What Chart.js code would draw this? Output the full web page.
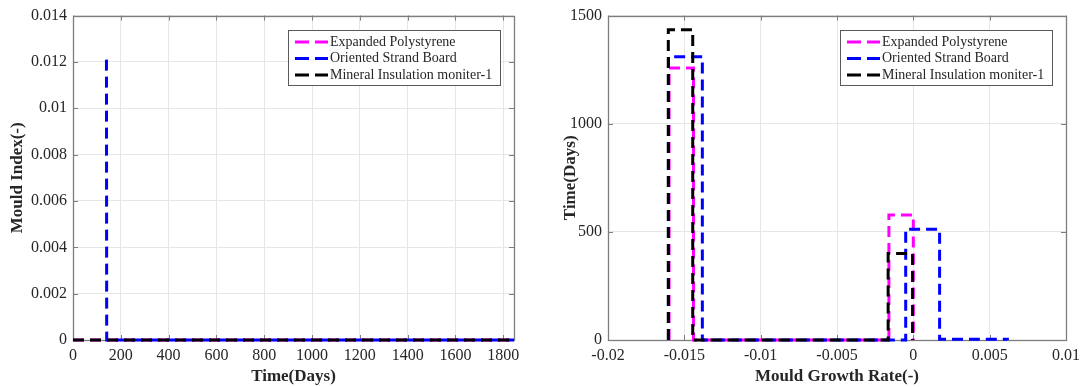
<!DOCTYPE html>
<html>
<head>
<meta charset="utf-8">
<script src="https://cdn.jsdelivr.net/npm/chart.js@4"></script>
<style>
body { margin: 0; background: #fff; width: 1088px; height: 387px; overflow: hidden; }
.pane { position: absolute; top: 0; height: 387px; }
</style>
</head>
<body>
<div class="pane" style="left:0;width:540px"><canvas id="leftChart" width="540" height="387"></canvas></div>
<div class="pane" style="left:540px;width:548px"><canvas id="rightChart" width="548" height="387"></canvas></div>
<script>
let seriesNames = ['Expanded Polystyrene', 'Oriented Strand Board', 'Mineral Insulation moniter-1']
let seriesColors = ['#ff00ff', '#0000ff', '#000000']

// left: mould index over time
let epsTime = [0, 1845]
let epsIndex = [0, 0]
let osbTime = [140, 141, 1845]
let osbIndex = [0.0121, 0, 0]
let minTime = [0, 1845]
let minIndex = [0, 0]
let leftXTicks = [0, 200, 400, 600, 800, 1000, 1200, 1400, 1600, 1800]
let leftYTicks = [0, 0.002, 0.004, 0.006, 0.008, 0.01, 0.012, 0.014]

// right: days per mould growth rate bin (stairs)
let epsEdges = [-0.0160, -0.0144, -0.0128, -0.0112, -0.0096, -0.0080, -0.0064, -0.0048, -0.0032, -0.0016, 0.0000]
let epsDays = [1258, 0, 0, 0, 0, 0, 0, 0, 0, 578]
let osbEdges = [-0.01604, -0.01382, -0.01160, -0.00938, -0.00716, -0.00494, -0.00272, -0.00050, 0.00172, 0.00394, 0.00616]
let osbDays = [1310, 0, 0, 0, 0, 0, 0, 512, 3, 4]
let minEdges = [-0.01605, -0.01445, -0.01285, -0.01125, -0.00965, -0.00805, -0.00645, -0.00485, -0.00325, -0.00165, -0.00005]
let minDays = [1435, 0, 0, 0, 0, 0, 0, 0, 0, 400]
let rightXTicks = [-0.02, -0.015, -0.01, -0.005, 0, 0.005, 0.01]
let rightYTicks = [0, 500, 1000, 1500]

let serif = '"Liberation Serif", "Times New Roman", serif'
let textColor = '#262626'

function pairs(xs, ys) {
    return xs.map((x, i) => ({x: x, y: ys[i]}))
}

function stairs(edges, counts) {
    let pts = [{x: edges[0], y: 0}]
    counts.forEach((c, i) => pts.push({x: edges[i], y: c}))
    pts.push({x: edges[edges.length - 1], y: 0})
    return pts
}

function makeDataset(i, data, stepped) {
    return {
        label: seriesNames[i],
        data: data,
        borderColor: seriesColors[i],
        backgroundColor: seriesColors[i],
        borderWidth: 3,
        borderDash: [11, 6],
        pointRadius: 0,
        fill: false,
        tension: 0,
        stepped: stepped,
        clip: false,
        order: 2 - i
    }
}

// box, inner ticks on all four sides
let frame = {
    id: 'frame',
    beforeDatasetsDraw(chart) {
        let {ctx, chartArea: a, scales: {x, y}} = chart
        ctx.save()
        ctx.strokeStyle = '#7d7d7d'
        ctx.lineWidth = 1
        ctx.beginPath()
        x.ticks.forEach(t => {
            let p = Math.round(x.getPixelForValue(t.value)) + 0.5
            ctx.moveTo(p, a.bottom); ctx.lineTo(p, a.bottom - 5)
            ctx.moveTo(p, a.top); ctx.lineTo(p, a.top + 5)
        })
        y.ticks.forEach(t => {
            let p = Math.round(y.getPixelForValue(t.value)) + 0.5
            ctx.moveTo(a.left, p); ctx.lineTo(a.left + 5, p)
            ctx.moveTo(a.right, p); ctx.lineTo(a.right - 5, p)
        })
        ctx.stroke()
        ctx.lineWidth = 1.3
        ctx.strokeRect(Math.round(a.left) + 0.5, Math.round(a.top) + 0.5, Math.round(a.width), Math.round(a.height))
        ctx.restore()
    }
}

// matlab style legend box in the top right corner
let boxLegend = {
    id: 'boxLegend',
    afterDraw(chart) {
        let {ctx, chartArea: a} = chart
        let w = 212, h = 55
        let left = Math.round(a.right - 14 - w), top = Math.round(a.top + 14)
        ctx.save()
        ctx.fillStyle = '#fff'
        ctx.fillRect(left, top, w, h)
        ctx.strokeStyle = '#5a5a5a'
        ctx.lineWidth = 1
        ctx.strokeRect(left + 0.5, top + 0.5, w, h)
        ctx.font = '14px ' + serif
        ctx.textBaseline = 'middle'
        chart.data.datasets.forEach((d, i) => {
            let yy = top + 12 + i * 16.5
            ctx.strokeStyle = d.borderColor
            ctx.lineWidth = 3
            ctx.setLineDash([14, 6])
            ctx.beginPath()
            ctx.moveTo(left + 7, yy)
            ctx.lineTo(left + 40, yy)
            ctx.stroke()
            ctx.setLineDash([])
            ctx.fillStyle = textColor
            ctx.fillText(d.label, left + 42, yy)
        })
        ctx.restore()
    }
}

function axis(min, max, tickList, title, fit, titlePad) {
    return {
        type: 'linear',
        min: min,
        max: max,
        afterBuildTicks: s => { s.ticks = tickList.map(v => ({value: v})) },
        afterFit: fit,
        ticks: {
            callback: v => String(v),
            font: {family: serif, size: 16},
            color: textColor,
            padding: 6,
            maxRotation: 0,
            autoSkip: false
        },
        grid: {color: '#e6e6e6', drawTicks: false},
        border: {display: false},
        title: {
            display: true,
            text: title,
            font: {family: serif, size: 17, weight: 'bold'},
            color: textColor,
            padding: titlePad
        }
    }
}

function makeOptions(xAxis, yAxis, pad) {
    return {
        responsive: false,
        animation: false,
        layout: {padding: pad},
        plugins: {legend: {display: false}, tooltip: {enabled: false}},
        scales: {x: xAxis, y: yAxis}
    }
}

let leftChart = new Chart(document.getElementById('leftChart').getContext('2d'), {
    type: 'line',
    data: {
        datasets: [
            makeDataset(0, pairs(epsTime, epsIndex), false),
            makeDataset(1, pairs(osbTime, osbIndex), false),
            makeDataset(2, pairs(minTime, minIndex), false)
        ]
    },
    options: makeOptions(
        axis(0, 1845, leftXTicks, 'Time(Days)', s => { s.height = 47 }, {top: 0, bottom: 0}),
        axis(0, 0.014, leftYTicks, 'Mould Index(-)', s => { s.width = 73 }, {top: 7, bottom: 0}),
        {top: 15, right: 26, left: 0, bottom: 0}
    ),
    plugins: [frame, boxLegend]
})

let rightChart = new Chart(document.getElementById('rightChart').getContext('2d'), {
    type: 'line',
    data: {
        datasets: [
            makeDataset(0, stairs(epsEdges, epsDays), 'before'),
            makeDataset(1, stairs(osbEdges, osbDays), 'before'),
            makeDataset(2, stairs(minEdges, minDays), 'before')
        ]
    },
    options: makeOptions(
        axis(-0.02, 0.01, rightXTicks, 'Mould Growth Rate(-)', s => { s.height = 47 }, {top: 0, bottom: 0}),
        axis(0, 1500, rightYTicks, 'Time(Days)', s => { s.width = 68 }, {top: 20, bottom: 0}),
        {top: 13, right: 22, left: 0, bottom: 0}
    ),
    plugins: [frame, boxLegend]
})
</script>
</body>
</html>
